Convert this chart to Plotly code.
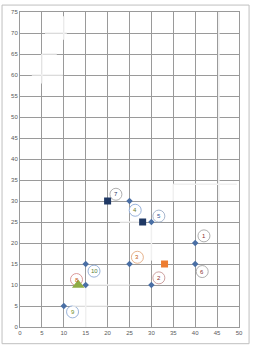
import plotly.graph_objects as go

# numbered points (blue diamonds)
point_labels = ["1", "2", "3", "4", "5", "6", "7", "8", "9", "10"]
point_x = [40, 30, 25, 25, 30, 40, 20, 15, 10, 15]
point_y = [20, 10, 15, 30, 25, 15, 30, 10, 5, 15]
# circled label positions
label_x = [42, 31.7, 26.8, 26.3, 31.7, 41.6, 21.9, 12.9, 12.0, 16.9]
label_y = [21.7, 11.7, 16.6, 27.8, 26.4, 13.2, 31.6, 11.3, 3.6, 13.3]
label_colors = ["#8b2d2d", "#8b2d2d", "#c55a11", "#6b7a1f", "#2f5597",
                "#8b2d2d", "#1f3864", "#c55a11", "#6b8e23", "#548235"]
circle_colors = ["#9a9a9a", "#c08a8a", "#e0a070", "#7f9fd0", "#8fa3c0",
                 "#9a9a9a", "#9a9a9a", "#d08080", "#7f9fd0", "#7f9fd0"]

# special markers
navy_x = [20, 28]
navy_y = [30, 25]
orange_x = [33]
orange_y = [15]
tri_x = [13.3]
tri_y = [10]

# faint background route lines (light grey)
faint_segments = [
    ([10, 10], [74, 68.4]), ([5.7, 10.7], [70, 70]), ([5, 5], [65, 58]),
    ([5, 8.4], [65, 65]), ([2.7, 9.8], [60, 60]),
    ([15, 15], [10, 0]), ([15, 25], [10, 10]), ([12, 20], [5, 5]),
    ([35, 35], [34, 30]), ([35, 49.5], [34, 34]), ([45.4, 45.4], [75, 30]),
    ([22.8, 28], [25, 25]), ([30, 30], [25, 15.8]),
]

x_ticks = list(range(0, 55, 5))
y_ticks = list(range(0, 80, 5))

fig = go.Figure()

for sx, sy in faint_segments:
    fig.add_trace(go.Scatter(x=sx, y=sy, mode="lines",
                             line=dict(color="#f0f0f0", width=1.5),
                             hoverinfo="skip", showlegend=False))

fig.add_trace(go.Scatter(x=point_x, y=point_y, mode="markers",
                         marker=dict(symbol="diamond", size=5, color="#4a6fa5"),
                         showlegend=False))
fig.add_trace(go.Scatter(x=navy_x, y=navy_y, mode="markers",
                         marker=dict(symbol="square", size=7, color="#1f3864"),
                         showlegend=False))
fig.add_trace(go.Scatter(x=orange_x, y=orange_y, mode="markers",
                         marker=dict(symbol="square", size=7, color="#ed7d31"),
                         showlegend=False))
fig.add_trace(go.Scatter(x=tri_x, y=tri_y, mode="markers",
                         marker=dict(symbol="triangle-up", size=11, color="#8fac45"),
                         showlegend=False))

shapes = []
annotations = []
for lab, lx, ly, tc, cc in zip(point_labels, label_x, label_y, label_colors, circle_colors):
    shapes.append(dict(type="circle", xref="x", yref="y", xsizemode="pixel",
                       ysizemode="pixel", xanchor=lx, yanchor=ly,
                       x0=-6, x1=6, y0=-6, y1=6,
                       line=dict(color=cc, width=0.8), fillcolor="white", layer="between"))
    annotations.append(dict(x=lx, y=ly, xref="x", yref="y", text=lab, showarrow=False,
                            font=dict(size=6, color=tc, family="Liberation Sans")))

# outer chart frame
shapes.append(dict(type="rect", xref="paper", yref="paper",
                   x0=-0.082, x1=1.046, y0=-0.053, y1=1.022,
                   line=dict(color="#bfbfbf", width=1), layer="below"))

fig.update_layout(
    width=260, height=347,
    margin=dict(l=20, r=21, t=9, b=20),
    paper_bgcolor="white", plot_bgcolor="white",
    shapes=shapes, annotations=annotations,
    xaxis=dict(range=[0, 50], tickvals=x_ticks, showgrid=True, gridcolor="#9a9a9a",
               gridwidth=0.8, zeroline=False, showline=True, linecolor="#9a9a9a",
               mirror=True, ticks="", tickfont=dict(size=6, color="#595959",
                                                     family="Liberation Sans")),
    yaxis=dict(range=[0, 75], tickvals=y_ticks, showgrid=True, gridcolor="#9a9a9a",
               gridwidth=0.8, zeroline=False, showline=True, linecolor="#9a9a9a",
               mirror=True, ticks="", tickfont=dict(size=6, color="#595959",
                                                     family="Liberation Sans")),
)

fig.write_html("out.html")
